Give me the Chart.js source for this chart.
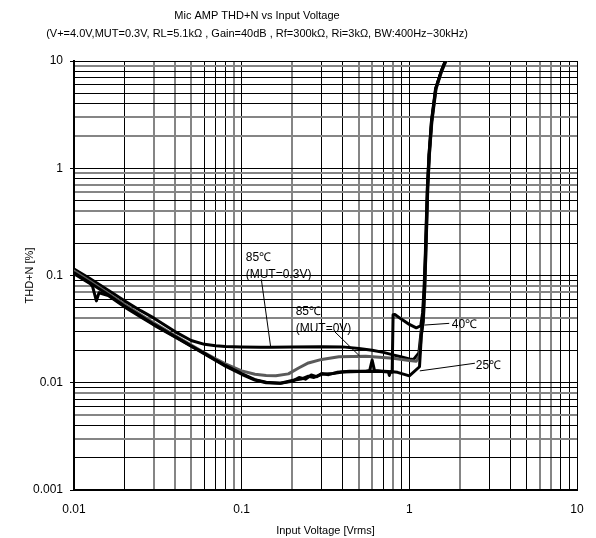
<!DOCTYPE html>
<html>
<head>
<meta charset="utf-8">
<script src="https://cdn.jsdelivr.net/npm/chart.js@4/dist/chart.umd.min.js"></script>
<style>
    html, body { margin: 0; padding: 0; background: #fff; }
    #wrap { width: 596px; height: 538px; }
</style>
</head>
<body>
<div id="wrap"><canvas id="thdChart"></canvas></div>
<script>
// Mic AMP THD+N vs input voltage, measured curves as [Vrms, THD+N %]
const t85Mut03 = [
    [0.01, 0.115], [0.0125, 0.093], [0.016, 0.073], [0.02, 0.058], [0.025, 0.047],
    [0.03, 0.04], [0.04, 0.03], [0.05, 0.0248], [0.06, 0.0228], [0.07, 0.0221],
    [0.08, 0.0218], [0.1, 0.0216], [0.13, 0.0214], [0.15, 0.0214], [0.2, 0.0215],
    [0.3, 0.0217], [0.4, 0.0216], [0.5, 0.0209], [0.6, 0.0201], [0.7, 0.0192],
    [0.8, 0.0182], [0.9, 0.0174], [1.0, 0.0167], [1.06, 0.0165], [1.14, 0.019],
    [1.175, 0.03], [1.205, 0.04], [1.23, 0.078], [1.248, 0.157], [1.265, 0.32],
    [1.282, 0.65], [1.311, 1.33], [1.356, 2.71], [1.437, 5.54], [1.55, 8.0], [1.66, 10.5]
];
const t85Mut0 = [
    [0.01, 0.11], [0.0125, 0.088], [0.016, 0.068], [0.02, 0.054], [0.025, 0.043],
    [0.03, 0.036], [0.04, 0.0275], [0.05, 0.0225], [0.06, 0.019], [0.07, 0.0167],
    [0.08, 0.015], [0.1, 0.0129], [0.12, 0.012], [0.14, 0.0117], [0.16, 0.0116],
    [0.19, 0.0121], [0.22, 0.0138], [0.25, 0.0153], [0.3, 0.0165], [0.38, 0.0175],
    [0.55, 0.0177], [0.8, 0.0169], [1.0, 0.0161], [1.1, 0.0159], [1.15, 0.018],
    [1.185, 0.03], [1.215, 0.04], [1.238, 0.08], [1.255, 0.16], [1.272, 0.32],
    [1.289, 0.65], [1.318, 1.33], [1.363, 2.7], [1.445, 5.5], [1.56, 8.0], [1.67, 10.3]
];
const t40 = [
    [0.01, 0.104], [0.0125, 0.084], [0.0129, 0.079], [0.0136, 0.058], [0.0141, 0.069],
    [0.016, 0.065], [0.02, 0.051], [0.025, 0.041], [0.03, 0.0345], [0.04, 0.0268],
    [0.05, 0.0219], [0.06, 0.0186], [0.07, 0.0161], [0.08, 0.0143], [0.1, 0.012],
    [0.12, 0.0106], [0.14, 0.01], [0.17, 0.0099], [0.2, 0.0105], [0.23, 0.0109],
    [0.25, 0.0115], [0.27, 0.0112], [0.3, 0.012], [0.35, 0.0122], [0.4, 0.0126],
    [0.5, 0.0127], [0.65, 0.0128], [0.79, 0.0125], [0.8, 0.043], [0.82, 0.0432],
    [0.9, 0.039], [1.0, 0.035], [1.1, 0.0325], [1.17, 0.034], [1.2, 0.045],
    [1.225, 0.078], [1.245, 0.155], [1.262, 0.315], [1.28, 0.645], [1.309, 1.32],
    [1.353, 2.7], [1.433, 5.5], [1.55, 8.0], [1.66, 10.5]
];
const t25 = [
    [0.01, 0.106], [0.0125, 0.085], [0.016, 0.066], [0.02, 0.052], [0.025, 0.042],
    [0.03, 0.035], [0.04, 0.027], [0.05, 0.022], [0.06, 0.0188], [0.07, 0.0163],
    [0.08, 0.0145], [0.1, 0.0122], [0.12, 0.0107], [0.14, 0.0101], [0.17, 0.0099],
    [0.2, 0.0103], [0.22, 0.0112], [0.24, 0.0108], [0.26, 0.0118], [0.28, 0.0114],
    [0.3, 0.0122], [0.33, 0.0119], [0.37, 0.0125], [0.44, 0.0128], [0.55, 0.0128],
    [0.58, 0.013], [0.6, 0.0163], [0.62, 0.013], [0.7, 0.0128], [0.75, 0.0127],
    [0.76, 0.0117], [0.77, 0.0127], [0.85, 0.0125], [1.0, 0.0116], [1.15, 0.0141],
    [1.18, 0.028], [1.21, 0.037], [1.235, 0.076], [1.253, 0.155], [1.27, 0.316],
    [1.287, 0.648], [1.316, 1.33], [1.36, 2.71], [1.44, 5.54], [1.55, 8.0], [1.66, 10.3]
];

const xTickLabels = ['0.01', '0.1', '1', '10'];
const yTickLabels = ['0.001', '0.01', '0.1', '1', '10'];

const titleLines = [
    'Mic AMP THD+N vs Input Voltage',
    '(V+=4.0V,MUT=0.3V, RL=5.1kΩ , Gain=40dB , Rf=300kΩ, Ri=3kΩ, BW:400Hz\u221230kHz)'
];

// curve labels with leader lines, placed in data units
const curveNotes = [
    { lines: ['85℃', '(MUT=0.3V)'], at: [0.1057, 0.1476], from: [0.131, 0.092], to: [0.149, 0.0214] },
    { lines: ['85℃', '(MUT=0V)'], at: [0.21, 0.0459], from: [0.359, 0.0299], to: [0.506, 0.0177] },
    { lines: ['40℃'], at: [1.79, 0.0345], from: [1.23, 0.0345], to: [1.73, 0.0358] },
    { lines: ['25℃'], at: [2.49, 0.0143], from: [1.155, 0.0129], to: [2.46, 0.0152] }
];

const FONT = "'Liberation Sans', Arial, sans-serif";

// 1..9 per decade, used for the grid
function decadeGrid(min, max) {
    const vals = [];
    for (let e = Math.round(Math.log10(min)); e < Math.round(Math.log10(max)); e++) {
        for (let m = 1; m < 10; m++) vals.push(Number((m * Math.pow(10, e)).toPrecision(3)));
    }
    vals.push(max);
    return vals;
}

function labelFor(list, value) {
    return list.find(l => Math.abs(Number(l) / value - 1) < 1e-6) || '';
}

function isMajor(list, value) {
    return labelFor(list, value) !== '';
}

// minor grid lines that fall between pixels come out as wider grey lines
function onHalfPixel(c) {
    const p = c.scale.getPixelForValue(c.tick.value) + 0.5;
    const f = p - Math.floor(p);
    return f > 0.3 && f < 0.7;
}

function gridColor(list) {
    return c => (isMajor(list, c.tick.value) || !onHalfPixel(c)) ? '#000' : '#858585';
}

function gridWidth(list) {
    return c => (isMajor(list, c.tick.value) || !onHalfPixel(c)) ? 1 : 2;
}

function toPoints(rows) {
    return rows.map(r => ({ x: r[0], y: r[1] }));
}

const headerPlugin = {
    id: 'header',
    beforeDraw(chart) {
        const ctx = chart.ctx;
        ctx.save();
        ctx.fillStyle = '#000';
        ctx.font = '11px ' + FONT;
        ctx.textAlign = 'center';
        ctx.textBaseline = 'middle';
        ctx.fillText(titleLines[0], 257, 16);
        ctx.fillText(titleLines[1], 257, 34);
        ctx.restore();
    }
};

const notesPlugin = {
    id: 'curveNotes',
    afterDatasetsDraw(chart) {
        const ctx = chart.ctx;
        const xs = chart.scales.x, ys = chart.scales.y;
        ctx.save();
        ctx.strokeStyle = '#000';
        ctx.lineWidth = 1;
        ctx.fillStyle = '#000';
        ctx.font = '12px ' + FONT;
        ctx.textAlign = 'left';
        ctx.textBaseline = 'middle';
        curveNotes.forEach(n => {
            ctx.beginPath();
            ctx.moveTo(xs.getPixelForValue(n.from[0]), ys.getPixelForValue(n.from[1]));
            ctx.lineTo(xs.getPixelForValue(n.to[0]), ys.getPixelForValue(n.to[1]));
            ctx.stroke();
            const tx = xs.getPixelForValue(n.at[0]);
            const ty = ys.getPixelForValue(n.at[1]);
            n.lines.forEach((line, i) => ctx.fillText(line, tx, ty + i * 17));
        });
        ctx.restore();
    }
};

function curve(label, rows, color) {
    return {
        label: label,
        data: toPoints(rows),
        borderColor: color,
        borderWidth: 3,
        borderJoinStyle: 'round',
        borderCapStyle: 'round',
        pointRadius: 0,
        fill: false,
        tension: 0
    };
}

const ctx = document.getElementById('thdChart').getContext('2d');
new Chart(ctx, {
    type: 'line',
    data: {
        datasets: [
            curve('25℃', t25, '#000'),
            curve('40℃', t40, '#000'),
            curve('85℃ (MUT=0V)', t85Mut0, '#5a5a5a'),
            curve('85℃ (MUT=0.3V)', t85Mut03, '#000')
        ]
    },
    options: {
        responsive: true,
        maintainAspectRatio: false,
        animation: false,
        layout: { padding: { left: 0, right: 19, top: 61, bottom: 0 } },
        scales: {
            x: {
                type: 'logarithmic',
                min: 0.01,
                max: 10,
                afterFit: s => { s.height = 48; },
                afterBuildTicks: s => { s.ticks = decadeGrid(0.01, 10).map(v => ({ value: v })); },
                border: { display: true, color: '#000', width: 2 },
                grid: {
                    color: gridColor(xTickLabels),
                    lineWidth: gridWidth(xTickLabels),
                    drawTicks: false
                },
                ticks: {
                    autoSkip: false,
                    maxRotation: 0,
                    padding: 12,
                    color: '#000',
                    font: { family: FONT, size: 12 },
                    callback: v => labelFor(xTickLabels, v)
                },
                title: {
                    display: true,
                    text: 'Input Voltage [Vrms]',
                    color: '#000',
                    font: { family: FONT, size: 11 },
                    padding: { top: 0, bottom: 0 }
                }
            },
            y: {
                type: 'logarithmic',
                min: 0.001,
                max: 10,
                afterFit: s => { s.width = 74; },
                afterBuildTicks: s => { s.ticks = decadeGrid(0.001, 10).map(v => ({ value: v })); },
                border: { display: true, color: '#000', width: 2 },
                grid: {
                    color: gridColor(yTickLabels),
                    lineWidth: gridWidth(yTickLabels),
                    tickColor: c => isMajor(yTickLabels, c.tick.value) ? '#000' : 'rgba(0,0,0,0)',
                    tickWidth: 1,
                    tickLength: 4
                },
                ticks: {
                    autoSkip: false,
                    padding: 7,
                    color: '#000',
                    font: { family: FONT, size: 12 },
                    callback: v => labelFor(yTickLabels, v)
                },
                title: {
                    display: true,
                    text: 'THD+N [%]',
                    color: '#000',
                    font: { family: FONT, size: 11 },
                    padding: { top: 23, bottom: 0 }
                }
            }
        },
        plugins: {
            legend: { display: false },
            tooltip: { enabled: false },
            title: { display: false }
        }
    },
    plugins: [headerPlugin, notesPlugin]
});
</script>
</body>
</html>
